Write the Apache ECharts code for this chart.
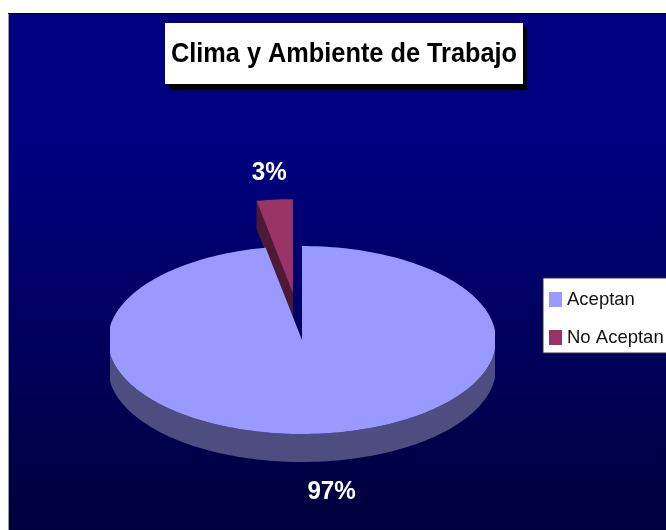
<!DOCTYPE html>
<html>
<head>
<meta charset="utf-8">
<style>html,body{margin:0;padding:0;background:#fff}#main{width:666px;height:530px}</style>
<script src="https://cdn.jsdelivr.net/npm/echarts@6/dist/echarts.min.js"></script>
</head>
<body>
<div id="main"></div>
<script>
const chartTitle = 'Clima y Ambiente de Trabajo';
const categories = ['Aceptan', 'No Aceptan'];
const values = [97, 3];

const colors = ['#9999ff', '#993366'];
const rimColors = ['#4d4d80', '#4d1a33'];
const explode = [0, 0.5];
const labelReach = [1.62, 1.79];
const G = { cx: 302, cy: 340, rx: 194, ry: 94, depth: 28, minX: 110, maxX: 495 };

const total = values.reduce((a, b) => a + b, 0);
const startFrac = i => values.slice(0, i).reduce((a, b) => a + b, 0) / total;

function pt(c, a) {
  const x = c.x + G.rx * Math.sin(a);
  return [Math.min(G.maxX, Math.max(G.minX, x)), c.y - G.ry * Math.cos(a)];
}

function renderSlice(i) {
  return function (params, api) {
    const share = api.value(0) / total;
    const a0 = startFrac(i) * 2 * Math.PI;
    const a1 = a0 + share * 2 * Math.PI;
    const mid = (a0 + a1) / 2;
    const c = {
      x: G.cx + explode[i] * G.rx * Math.sin(mid),
      y: G.cy - explode[i] * G.ry * Math.cos(mid)
    };
    const steps = Math.max(4, Math.round(share * 240));
    const arc = [];
    for (let k = 0; k <= steps; k++) arc.push(a0 + (a1 - a0) * k / steps);
    const children = [];
    // outer wall, visible on the near half only
    const near = arc.filter(a => Math.cos(a) <= 0);
    if (near.length > 1) {
      const top = near.map(a => pt(c, a));
      const bottom = top.slice().reverse().map(p => [p[0], p[1] + G.depth]);
      children.push({ type: 'polygon', shape: { points: top.concat(bottom) }, style: { fill: rimColors[i] } });
    }
    // cut face of a pulled-out slice
    if (explode[i] > 0) {
      const e = pt(c, a0);
      children.push({
        type: 'polygon',
        shape: { points: [[c.x, c.y], e, [e[0], e[1] + G.depth], [c.x, c.y + G.depth]] },
        style: { fill: rimColors[i] }
      });
    }
    // top face
    children.push({
      type: 'polygon',
      shape: { points: [[c.x, c.y]].concat(arc.map(a => pt(c, a))) },
      style: { fill: colors[i] }
    });
    // percentage label
    children.push({
      type: 'text',
      z2: 10,
      x: G.cx + labelReach[i] * G.rx * Math.sin(mid),
      y: G.cy - labelReach[i] * G.ry * Math.cos(mid),
      scaleX: 0.93,
      style: {
        text: Math.round(share * 100) + '%',
        fill: '#fff',
        font: 'bold 26px "Liberation Sans"',
        align: 'center',
        verticalAlign: 'middle'
      }
    });
    return { type: 'group', children };
  };
}

const chart = echarts.init(document.getElementById('main'), null, { renderer: 'canvas' });
chart.setOption({
  animation: false,
  backgroundColor: '#fff',
  legend: {
    left: 543,
    top: 278,
    orient: 'vertical',
    data: categories,
    icon: 'rect',
    itemWidth: 13,
    itemHeight: 15,
    itemGap: 19,
    padding: [12, 10, 6, 6],
    backgroundColor: '#fff',
    borderColor: '#333',
    borderWidth: 1,
    textStyle: { color: '#111', fontFamily: 'Liberation Sans', fontSize: 18.5 }
  },
  graphic: [
    {
      type: 'rect',
      z: -10,
      shape: { x: 9, y: 14, width: 657, height: 516 },
      style: {
        fill: new echarts.graphic.LinearGradient(0, 0, 0, 1, [
          { offset: 0, color: '#000080' },
          { offset: 0.25, color: '#000080' },
          { offset: 1, color: '#00003c' }
        ])
      }
    },
    { type: 'rect', z: -9, shape: { x: 8, y: 13, width: 658, height: 1 }, style: { fill: '#000' } },
    { type: 'rect', z: -9, shape: { x: 8, y: 14, width: 1, height: 516 }, style: { fill: '#999' } },
    { type: 'rect', z: 20, shape: { x: 169, y: 27, width: 358, height: 63 }, style: { fill: '#000' } },
    { type: 'rect', z: 21, shape: { x: 165, y: 23, width: 358, height: 61 }, style: { fill: '#fff' } },
    {
      type: 'text',
      z: 22,
      x: 171,
      y: 54,
      scaleX: 0.904,
      style: {
        text: chartTitle,
        fill: '#000',
        font: 'bold 28px "Liberation Sans"',
        align: 'left',
        verticalAlign: 'middle'
      }
    }
  ],
  series: categories.map((name, i) => ({
    type: 'custom',
    name,
    coordinateSystem: 'none',
    z: 5 - i,
    itemStyle: { color: colors[i] },
    data: [[values[i]]],
    renderItem: renderSlice(i),
    silent: true
  }))
});
</script>
</body>
</html>
